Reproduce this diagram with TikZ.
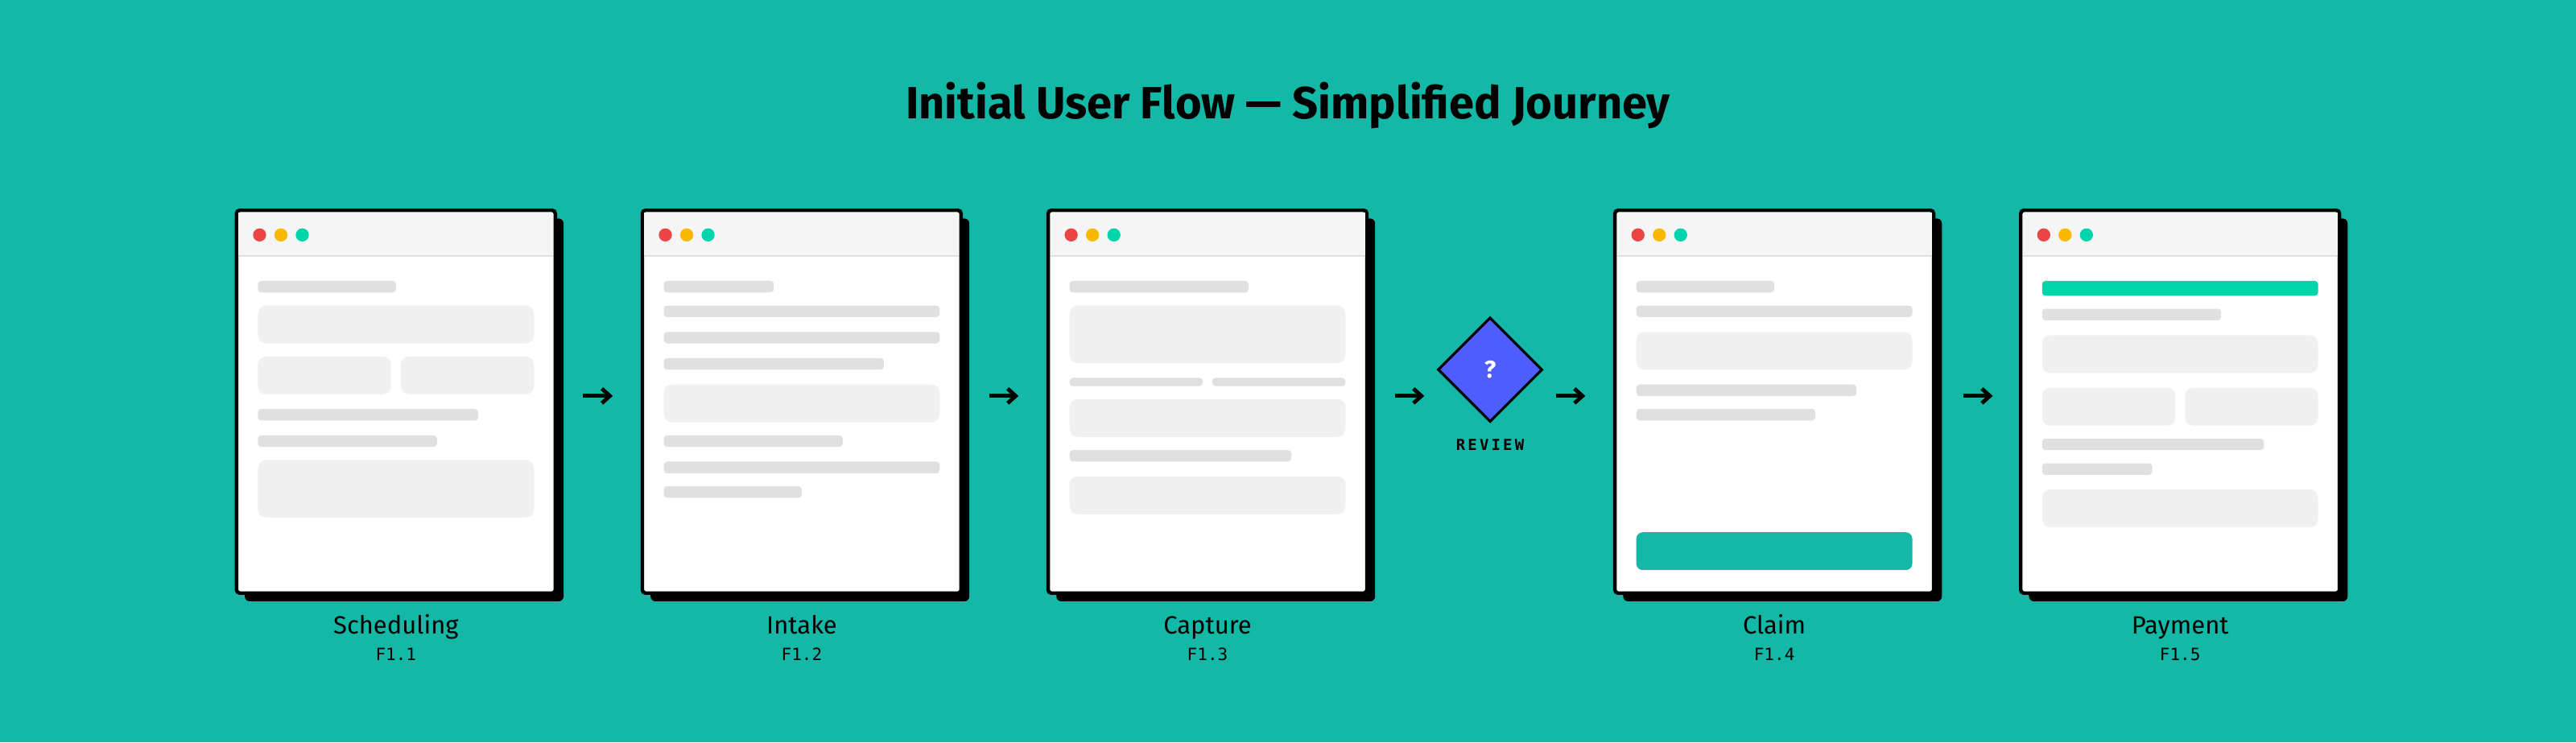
\documentclass[tikz,border=0pt]{standalone}
\usepackage{fontspec}
\setmainfont{Fira Sans}
\setmonofont{DejaVu Sans Mono}
\usetikzlibrary{shapes.geometric,arrows.meta}
\definecolor{bg}{HTML}{14B8A6}
\definecolor{barc}{HTML}{E0E0E0}
\definecolor{boxc}{HTML}{F0F0F0}
\definecolor{headc}{HTML}{F5F5F5}
\definecolor{dred}{HTML}{EF4444}
\definecolor{dyel}{HTML}{FBB800}
\definecolor{dgrn}{HTML}{00D4AA}
\definecolor{purp}{HTML}{4F5DFF}
\definecolor{btn}{HTML}{14B8A6}
\tikzset{
  x=1.0204pt,y=-1.0204pt,
  frame/.style={draw=black,line width=2.2pt,fill=white,rounded corners=2pt},
  shadowc/.style={fill=black,rounded corners=3pt},
  bar/.style={fill=barc,rounded corners=2pt},
  box/.style={fill=boxc,rounded corners=5pt},
  flowarrow/.style={line width=2.4pt,-{Straight Barb[length=5pt,width=9pt,line width=2.4pt]}},
  lbl/.style={font=\fontsize{15.5}{18}\selectfont,anchor=base},
  code/.style={font=\ttfamily\fontsize{10.5}{12}\selectfont,anchor=base},
}
\newcommand{\screen}[3]{% left x, name, label, code via #3
  \fill[shadowc] (#1+5,133) rectangle (#1+199,366);
  \draw[frame] (#1,128) rectangle (#1+194,361);
  \fill[headc] (#1+1.2,129.2) rectangle (#1+192.8,156);
  \draw[barc,line width=1pt] (#1+1.2,156) -- (#1+192.8,156);
  \fill[dred] (#1+14,143) circle (4);
  \fill[dyel] (#1+27,143) circle (4);
  \fill[dgrn] (#1+40,143) circle (4);
}
\begin{document}
\begin{tikzpicture}
\fill[bg] (0,0) rectangle (1568,452);
\useasboundingbox (0,0) rectangle (1568,452);
\node[font=\bfseries\fontsize{28}{32}\selectfont] (title) at (784,64) {Initial User Flow — Simplified Journey};

% frame 1
\screen{144}{s1}{}
\coordinate (s1w) at (338,241);
\fill[bar] (157,171) rectangle (241,178);
\fill[box] (157,186) rectangle (325,209);
\fill[box] (157,217) rectangle (238,240);
\fill[box] (244,217) rectangle (325,240);
\fill[bar] (157,249) rectangle (291,256);
\fill[bar] (157,265) rectangle (266,272);
\fill[box] (157,280) rectangle (325,315);
\node[lbl] (l1) at (241,386) {Scheduling};
\node[code] (c1) at (241,402) {F1.1};

% frame 2
\screen{391}{s2}{}
\fill[bar] (404,171) rectangle (471,178);
\fill[bar] (404,186) rectangle (572,193);
\fill[bar] (404,202) rectangle (572,209);
\fill[bar] (404,218) rectangle (538,225);
\fill[box] (404,234) rectangle (572,257);
\fill[bar] (404,265) rectangle (513,272);
\fill[bar] (404,281) rectangle (572,288);
\fill[bar] (404,296) rectangle (488,303);
\node[lbl] (l2) at (488,386) {Intake};
\node[code] (c2) at (488,402) {F1.2};

% frame 3
\screen{638}{s3}{}
\fill[bar] (651,171) rectangle (760,178);
\fill[box] (651,186) rectangle (819,221);
\fill[bar] (651,230) rectangle (732,235);
\fill[bar] (738,230) rectangle (819,235);
\fill[box] (651,243) rectangle (819,266);
\fill[bar] (651,274) rectangle (786,281);
\fill[box] (651,290) rectangle (819,313);
\node[lbl] (l3) at (735,386) {Capture};
\node[code] (c3) at (735,402) {F1.3};

% decision
\node[diamond,draw=black,line width=1.6pt,fill=purp,minimum width=65,minimum height=65,inner sep=0,text=white,font=\bfseries\fontsize{15}{16}\selectfont] (rev) at (907,225) {?};
\node[code,font=\ttfamily\bfseries\fontsize{9.5}{11}\selectfont] (revl) at (907,274) {R\,E\,V\,I\,E\,W};

% frame 4
\screen{983}{s4}{}
\fill[bar] (996,171) rectangle (1080,178);
\fill[bar] (996,186) rectangle (1164,193);
\fill[box] (996,202) rectangle (1164,225);
\fill[bar] (996,234) rectangle (1130,241);
\fill[bar] (996,249) rectangle (1105,256);
\fill[btn,rounded corners=4pt] (996,324) rectangle (1164,347);
\node[lbl] (l4) at (1080,386) {Claim};
\node[code] (c4) at (1080,402) {F1.4};

% frame 5
\screen{1230}{s5}{}
\fill[dgrn,rounded corners=2pt] (1243,171) rectangle (1411,180);
\fill[bar] (1243,188) rectangle (1352,195);
\fill[box] (1243,204) rectangle (1411,227);
\fill[box] (1243,236) rectangle (1324,259);
\fill[box] (1330,236) rectangle (1411,259);
\fill[bar] (1243,267) rectangle (1378,274);
\fill[bar] (1243,282) rectangle (1310,289);
\fill[box] (1243,298) rectangle (1411,321);
\node[lbl] (l5) at (1327,386) {Payment};
\node[code] (c5) at (1327,402) {F1.5};

% arrows
\foreach \i/\a/\b in {1/355/373,2/602/620,3/849/867,4/947/965,5/1195/1213}{
  \coordinate (a\i s) at (\a,241);
  \coordinate (a\i e) at (\b,241);
  \draw[flowarrow] (a\i s) -- (a\i e);
}
\end{tikzpicture}
\end{document}
